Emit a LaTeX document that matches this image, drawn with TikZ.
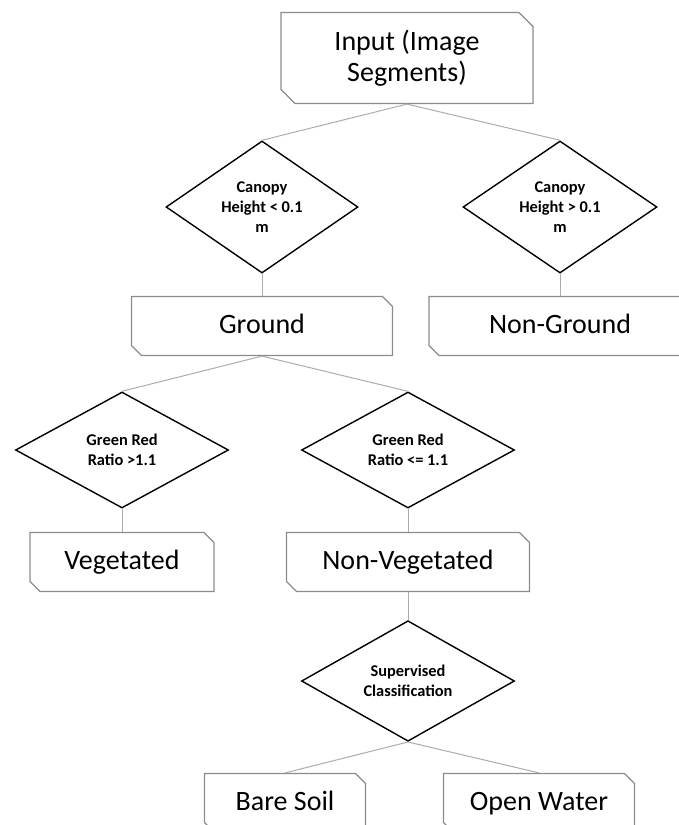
\documentclass[tikz,border=0pt]{standalone}
\usepackage{fontspec}
\setmainfont{Carlito}
\usetikzlibrary{shapes.geometric,shapes.misc}

\tikzset{
  cutbox/.style={chamfered rectangle, chamfered rectangle corners={north east,south west},
    chamfered rectangle xsep=2.5pt, chamfered rectangle ysep=2.5pt,
    draw=gray!90, line width=0.6pt, fill=white, align=center, inner sep=0pt,
    minimum height=29.5pt, text height=10pt, text depth=3pt,
    font=\fontsize{14}{15.5}\selectfont},
  cond/.style={diamond, draw=black, line width=0.7pt, fill=white, align=center, inner sep=0pt,
    minimum width=106.5pt, minimum height=58pt, font=\bfseries\fontsize{8.2}{10}\selectfont}
}

\begin{document}
\begin{tikzpicture}[
  level 1/.style={level distance=74.5pt},
  level 2/.style={level distance=59.5pt},
  level 3/.style={level distance=62pt},
  level 4/.style={level distance=56pt},
  level 5/.style={level distance=59.5pt},
  level 6/.style={level distance=61pt},
  edge from parent/.style={draw=gray!65, line width=0.5pt},
  edge from parent path={(\tikzparentnode.south) -- (\tikzchildnode.north)}]

\path[use as bounding box, clip] (0,0) rectangle (339.5pt,-412.5pt);

\node[cutbox, minimum width=126pt, minimum height=45.5pt, text height=, text depth=, chamfered rectangle xsep=3.5pt, chamfered rectangle ysep=3.5pt] (input) at (203.5pt,-29pt) {Input (Image\\Segments)} [sibling distance=149pt]
child[xshift=2pt] {node[cond, minimum width=96pt, minimum height=57.5pt] (low) {Canopy\\Height < 0.1\\m}
	child {node[cutbox, minimum width=130.5pt] (ground) {Ground} [sibling distance=143pt]
		child[xshift=1.5pt] {node[cond] (ratiohi) {Green Red\\Ratio >1.1}
			child {node[cutbox, minimum width=92pt] (veg) {Vegetated}}
		}
		child[xshift=1.5pt] {node[cond] (ratiolo) {Green Red\\Ratio <= 1.1}
			child {node[cutbox, minimum width=121.5pt] (nonveg) {Non-Vegetated}
				child {node[cond] (superv) {Supervised\\Classification} [sibling distance=127pt]
					child[xshift=2pt] {node[cutbox, minimum width=80.5pt] (soil) {Bare Soil}}
					child[xshift=2pt] {node[cutbox, minimum width=95.5pt] (water) {Open Water}}
				}
			}
		}
	}
}
child[xshift=2pt] {node[cond, minimum width=97pt, minimum height=57.5pt] (high) {Canopy\\Height > 0.1\\m}
	child {node[cutbox, minimum width=131pt] (nonground) {Non-Ground}}
};

\end{tikzpicture}
\end{document}
